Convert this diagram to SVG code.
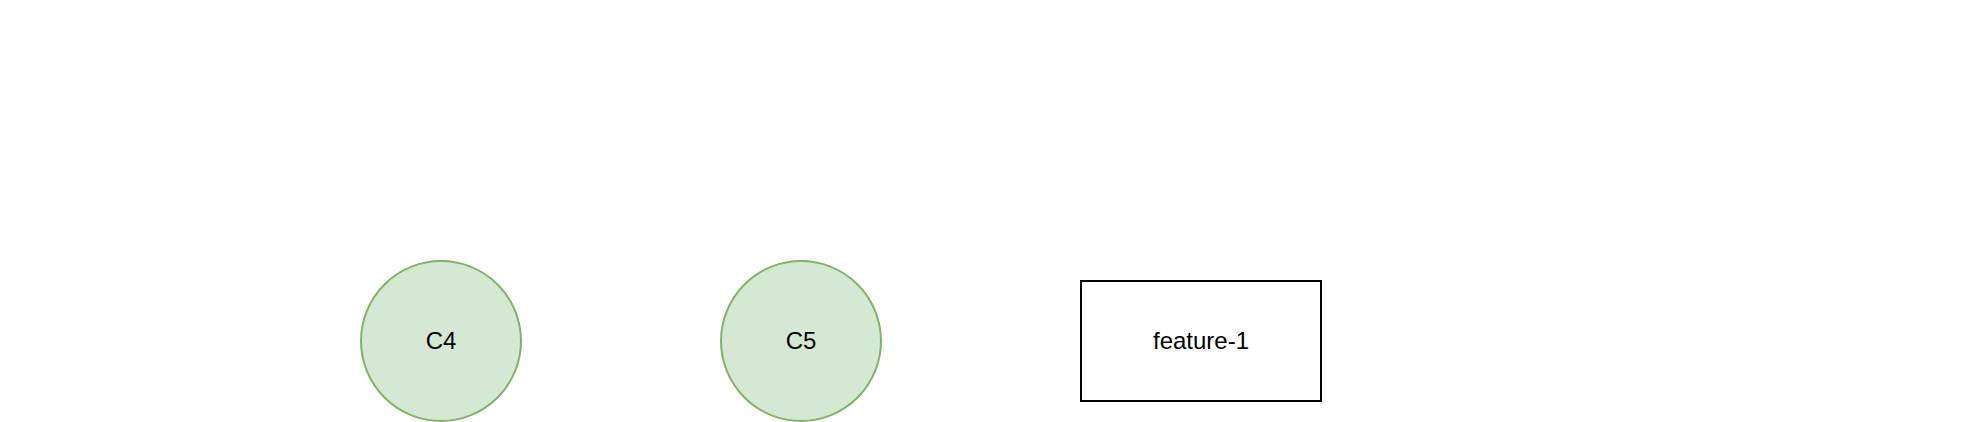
<svg xmlns="http://www.w3.org/2000/svg" width="1962" height="422" viewBox="0 0 1962 422">
<style>
.commit{fill:#d5e8d4;stroke:#82b366;stroke-width:2}
.branch{fill:#ffffff;stroke:#000000;stroke-width:2}
.lbl{font-family:"Liberation Sans",Arial,sans-serif;font-size:24px;fill:#000000;text-anchor:middle}
</style>
<rect x="0" y="0" width="1962" height="422" fill="#ffffff"/>
<g id="connectors"></g>
<g id="C4">
<circle class="commit" cx="441" cy="341" r="80"/>
<text class="lbl" x="441" y="349">C4</text>
</g>
<g id="C5">
<circle class="commit" cx="801" cy="341" r="80"/>
<text class="lbl" x="801" y="349">C5</text>
</g>
<g id="feature-1">
<rect class="branch" x="1081" y="281" width="240" height="120"/>
<text class="lbl" x="1201" y="349">feature-1</text>
</g>
</svg>
